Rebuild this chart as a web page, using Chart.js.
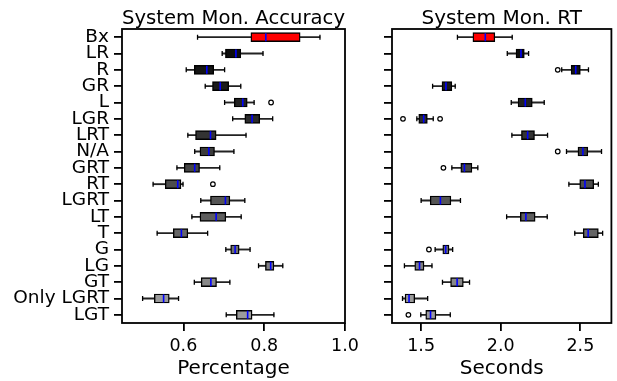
<!DOCTYPE html>
<html>
<head>
<meta charset="utf-8">
<script src="https://cdn.jsdelivr.net/npm/chart.js@4"></script>
<style>
  body { margin: 0; background: #fff; }
  #wrapAcc { position: absolute; left: 0; top: 0; width: 372px; height: 381px; }
  #wrapRt { position: absolute; left: 350px; top: 0; width: 267px; height: 381px; }
</style>
</head>
<body>
<div id="wrapAcc"><canvas id="accChart" width="372" height="381"></canvas></div>
<div id="wrapRt"><canvas id="rtChart" width="267" height="381"></canvas></div>
<script>
// Categories (top to bottom)
const categories = ['Bx', 'LR', 'R', 'GR', 'L', 'LGR', 'LRT', 'N/A', 'GRT', 'RT', 'LGRT', 'LT', 'T', 'G', 'LG', 'GT', 'Only LGRT', 'LGT'];

// Accuracy box plot stats
const accLow  = [0.635, 0.696, 0.607, 0.654, 0.702, 0.722, 0.611, 0.628, 0.584, 0.525, 0.643, 0.621, 0.535, 0.705, 0.786, 0.627, 0.499, 0.706];
const accQ1   = [0.767, 0.704, 0.627, 0.672, 0.726, 0.752, 0.630, 0.641, 0.602, 0.555, 0.667, 0.641, 0.575, 0.717, 0.803, 0.644, 0.528, 0.731];
const accMed  = [0.804, 0.730, 0.658, 0.691, 0.747, 0.770, 0.667, 0.663, 0.628, 0.586, 0.704, 0.681, 0.595, 0.728, 0.816, 0.668, 0.551, 0.759];
const accQ3   = [0.889, 0.742, 0.675, 0.712, 0.758, 0.789, 0.681, 0.677, 0.640, 0.594, 0.715, 0.705, 0.611, 0.738, 0.824, 0.682, 0.565, 0.770];
const accHigh = [0.938, 0.797, 0.702, 0.742, 0.775, 0.821, 0.755, 0.725, 0.690, 0.599, 0.752, 0.743, 0.660, 0.765, 0.846, 0.715, 0.588, 0.824];
const accOutliers = [['L', 0.817], ['RT', 0.673]];
const accTicks = [0.6, 0.8, 1.0];

// RT box plot stats
const rtLow  = [1.728, 2.041, 2.383, 1.572, 2.066, 1.473, 2.070, 2.413, 1.693, 2.428, 1.500, 2.037, 2.465, 1.588, 1.395, 1.634, 1.383, 1.498];
const rtQ1   = [1.825, 2.096, 2.442, 1.631, 2.109, 1.485, 2.130, 2.485, 1.749, 2.496, 1.557, 2.123, 2.518, 1.636, 1.460, 1.685, 1.399, 1.529];
const rtMed  = [1.903, 2.127, 2.471, 1.656, 2.154, 1.516, 2.169, 2.516, 1.772, 2.529, 1.621, 2.158, 2.549, 1.654, 1.490, 1.726, 1.424, 1.559];
const rtQ3   = [1.963, 2.148, 2.500, 1.693, 2.198, 1.539, 2.212, 2.547, 1.819, 2.584, 1.687, 2.216, 2.613, 1.675, 1.518, 1.765, 1.460, 1.593];
const rtHigh = [2.072, 2.175, 2.551, 1.714, 2.273, 1.576, 2.294, 2.633, 1.856, 2.613, 1.747, 2.292, 2.640, 1.698, 1.568, 1.804, 1.541, 1.683];
const rtOutliers = [['R', 2.358], ['LGR', 1.386], ['LGR', 1.619], ['N/A', 2.358], ['GRT', 1.640], ['G', 1.549], ['LGT', 1.420]];
const rtTicks = [1.5, 2.0, 2.5];

// Box fill colours per row
const boxColors = ['#ff0000', '#0d0d0d', '#141414', '#1a1a1a', '#222222', '#2b2b2b', '#333333', '#3b3b3b', '#444444',
  '#4d4d4d', '#555555', '#5e5e5e', '#666666', '#6f6f6f', '#808080', '#888888', '#999999', '#9c9c9c'];

Chart.defaults.font.family = "'DejaVu Sans', sans-serif";
Chart.defaults.color = '#000';

// draws the box around the plot area
const framePlugin = {
  id: 'frame',
  afterDatasetsDraw(chart) {
    const a = chart.chartArea;
    const c = chart.ctx;
    c.save();
    c.strokeStyle = '#000';
    c.lineWidth = 1.8;
    c.strokeRect(a.left, a.top, a.right - a.left, a.bottom - a.top);
    c.restore();
  }
};

function boxChart(id, cfg) {
  const caps = [];
  categories.forEach((c, i) => {
    caps.push({ x: cfg.low[i], y: c });
    caps.push({ x: cfg.high[i], y: c });
  });
  return new Chart(document.getElementById(id), {
    type: 'bar',
    data: {
      labels: categories,
      datasets: [
        {
          type: 'scatter',
          data: categories.map((c, i) => ({ x: cfg.med[i], y: c })),
          pointStyle: 'line', rotation: 90, radius: 4,
          borderColor: '#0000ff', borderWidth: 1.6, order: 0
        },
        {
          type: 'scatter',
          data: cfg.outliers.map(o => ({ x: o[1], y: o[0] })),
          pointStyle: 'circle', radius: 2.3,
          backgroundColor: '#fff', borderColor: '#000', borderWidth: 1.2, order: 1
        },
        {
          indexAxis: 'y',
          data: categories.map((c, i) => [cfg.q1[i], cfg.q3[i]]),
          backgroundColor: boxColors,
          borderColor: '#000', borderWidth: 1.4, borderSkipped: false,
          barThickness: 9, grouped: false, order: 2
        },
        {
          type: 'scatter',
          data: caps,
          pointStyle: 'line', rotation: 90, radius: 2.5,
          borderColor: '#000', borderWidth: 1.3, order: 3
        },
        {
          indexAxis: 'y',
          data: categories.map((c, i) => [cfg.low[i], cfg.high[i]]),
          backgroundColor: '#222',
          barThickness: 1.2, grouped: false, order: 4
        }
      ]
    },
    options: {
      indexAxis: 'y',
      responsive: false,
      animation: false,
      events: [],
      layout: { padding: { left: 0, right: cfg.padRight, top: 0, bottom: 0 } },
      plugins: {
        legend: { display: false },
        tooltip: { enabled: false },
        title: {
          display: true, text: cfg.title, fullSize: false,
          font: { size: 20, weight: 'normal', lineHeight: 1.0 },
          padding: { top: 9, bottom: 0 }, color: '#000'
        }
      },
      scales: {
        x: {
          type: 'linear', min: cfg.min, max: cfg.max,
          border: { display: false },
          grid: { drawOnChartArea: false, drawTicks: true, tickLength: 8, color: '#000', lineWidth: 1.8 },
          ticks: { font: { size: 17.5 }, padding: 5, callback: v => v.toFixed(1) },
          title: { display: true, text: cfg.xTitle, font: { size: 20 }, padding: { top: 0, bottom: 0 } },
          afterBuildTicks: s => { s.ticks = cfg.ticks.map(v => ({ value: v })); },
          afterFit: s => { s.height = 58; s.paddingLeft = 0; s.paddingRight = 0; }
        },
        y: {
          type: 'category', offset: true,
          border: { display: false },
          grid: { offset: false, drawOnChartArea: false, drawTicks: true, tickLength: 8, color: '#000', lineWidth: 1.8 },
          ticks: {
            font: { size: 18.5 }, padding: 5, autoSkip: false,
            callback: function (v) { return cfg.showLabels ? this.getLabelForValue(v) : ''; }
          },
          afterFit: s => { s.width = cfg.yWidth; s.paddingTop = 0; s.paddingBottom = 0; }
        }
      }
    },
    plugins: [framePlugin]
  });
}

boxChart('accChart', {
  title: 'System Mon. Accuracy', xTitle: 'Percentage',
  low: accLow, q1: accQ1, med: accMed, q3: accQ3, high: accHigh, outliers: accOutliers,
  ticks: accTicks, min: 0.448, max: 1.0,
  showLabels: true, yWidth: 122, padRight: 27
});

boxChart('rtChart', {
  title: 'System Mon. RT', xTitle: 'Seconds',
  low: rtLow, q1: rtQ1, med: rtMed, q3: rtQ3, high: rtHigh, outliers: rtOutliers,
  ticks: rtTicks, min: 1.317, max: 2.695,
  showLabels: false, yWidth: 42, padRight: 3
});
</script>
</body>
</html>
